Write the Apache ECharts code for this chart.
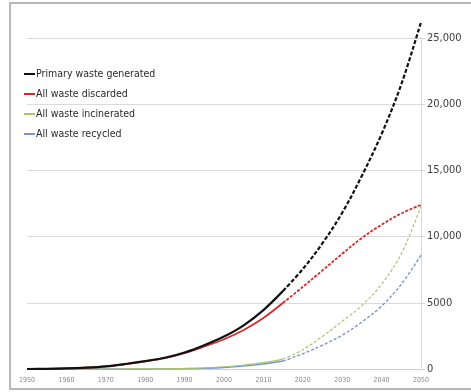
<!DOCTYPE html>
<html>
<head>
<meta charset="utf-8">
<script src="https://cdn.jsdelivr.net/npm/echarts@6/dist/echarts.min.js"></script>
<style>
html,body{margin:0;padding:0;background:#fff;}
#c{width:471px;height:392px;}
</style>
</head>
<body>
<div id="c"></div>
<script>
var years = [1950,1955,1960,1965,1970,1975,1980,1985,1990,1995,2000,2005,2010,2015,2020,2025,2030,2035,2040,2045,2050];
var primaryGenerated = [0,10,40,100,200,380,600,850,1250,1800,2450,3300,4450,5900,7550,9500,11800,14600,17750,21500,26200];
var allDiscarded     = [0,10,40,100,200,370,580,830,1200,1700,2250,2950,3850,5000,6200,7450,8700,9900,10900,11750,12400];
var allIncinerated   = [0,0,0,0,1,2,5,15,40,90,170,300,480,750,1450,2450,3600,4800,6400,8700,12300];
var allRecycled      = [0,0,0,0,0,2,5,10,20,50,110,220,380,600,1150,1800,2550,3550,4750,6400,8600];
var xTickLabels = ['1950','1960','1970','1980','1990','2000','2010','2020','2030','2040','2050'];
var yTickLabels = ['0','5000','10,000','15,000','20,000','25,000'];
var lastObservedYear = 2015;

var seriesDefs = [
  {name:'Primary waste generated', vals: primaryGenerated, color:'#111111', w:2.2, dash:[4,2]},
  {name:'All waste discarded', vals: allDiscarded, color:'#d42a2a', w:1.8, dash:[3,1.5]},
  {name:'All waste incinerated', vals: allIncinerated, color:'#a9c46c', w:1.2, dash:[3,2]},
  {name:'All waste recycled', vals: allRecycled, color:'#7b93d0', w:1.4, dash:[3,2]}
];

var series = [];
seriesDefs.forEach(function(d){
  var hist = [], proj = [];
  years.forEach(function(y,i){
    if (y <= lastObservedYear) hist.push([y, d.vals[i]]);
    if (y >= lastObservedYear) proj.push([y, d.vals[i]]);
  });
  series.push({name:d.name, type:'line', data:hist, smooth:0.35, showSymbol:false, clip:false,
    lineStyle:{color:d.color, width:d.w}, itemStyle:{color:d.color}, z:3});
  series.push({name:d.name, type:'line', data:proj, smooth:0.35, showSymbol:false, clip:false,
    lineStyle:{color:d.color, width:d.w, type:d.dash}, itemStyle:{color:d.color}, z:3});
});
series.reverse();

var font = "'Liberation Sans Narrow','DejaVu Sans Condensed','Liberation Sans',sans-serif";

var chart = echarts.init(document.getElementById('c'), null, {renderer:'canvas'});
chart.setOption({
  animation:false,
  backgroundColor:'#ffffff',
  textStyle:{fontFamily:font},
  graphic:[{type:'rect', shape:{x:10, y:3, width:470, height:386},
    style:{fill:'none', stroke:'#b8b8b8', lineWidth:2}, z:0}],
  grid:{left:27, right:50, top:38, bottom:23},
  legend:{
    orient:'vertical', left:19, top:63, itemGap:8, itemWidth:11, itemHeight:2,
    icon:'rect',
    data:seriesDefs.map(function(d){return d.name;}),
    textStyle:{fontFamily:font, fontSize:10.5, color:'#2a2a2a', padding:[0,0,0,-4], lineHeight:12}
  },
  xAxis:{
    type:'value', min:1950, max:2050, interval:10,
    axisLine:{show:true, lineStyle:{color:'#d0d0d0'}},
    axisTick:{show:false},
    splitLine:{show:false},
    axisLabel:{fontSize:7, color:'#8a8a8a', margin:8, fontFamily:font,
      formatter:function(v){ var i = Math.round((v-1950)/10); return xTickLabels[i] || ''; }}
  },
  yAxis:{
    type:'value', position:'right', min:0, max:25000, interval:5000,
    axisLine:{show:true, lineStyle:{color:'#d8d8d8'}},
    axisTick:{show:true, length:4, lineStyle:{color:'#d8d8d8'}},
    splitLine:{show:true, lineStyle:{color:'#dadada', width:1}},
    axisLabel:{fontSize:11, color:'#404040', margin:6, fontFamily:font,
      formatter:function(v){ return yTickLabels[Math.round(v/5000)]; }}
  },
  series:series
});
</script>
</body>
</html>
